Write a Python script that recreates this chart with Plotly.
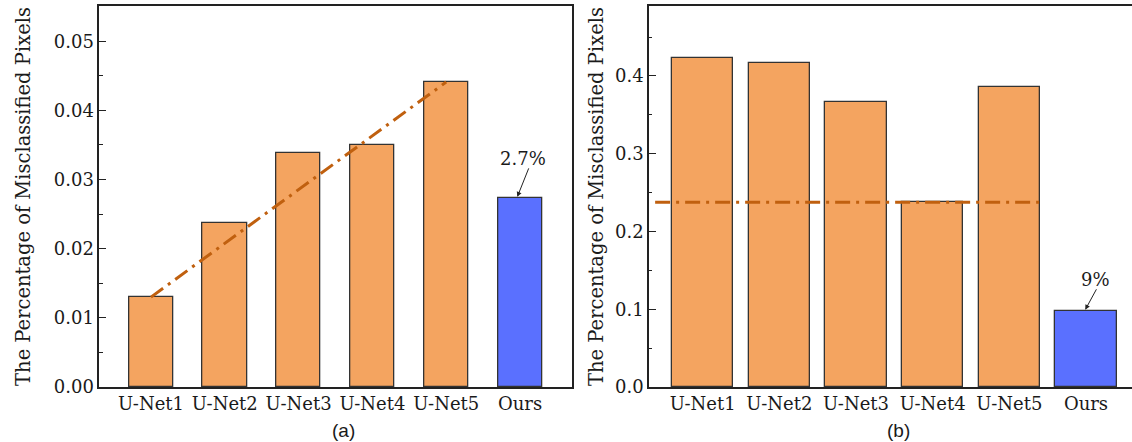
import plotly.graph_objects as go

categories = ["U-Net1", "U-Net2", "U-Net3", "U-Net4", "U-Net5", "Ours"]
values_a = [0.0130, 0.0237, 0.0338, 0.0350, 0.0441, 0.0273]
values_b = [0.4226, 0.4170, 0.3660, 0.2377, 0.3857, 0.0983]
bar_colors = ["#F4A460"] * 5 + ["#5A70FF"]
yticks_a = [0.00, 0.01, 0.02, 0.03, 0.04, 0.05]
yticklabels_a = ["0.00", "0.01", "0.02", "0.03", "0.04", "0.05"]
yticks_b = [0.0, 0.1, 0.2, 0.3, 0.4]
yticklabels_b = ["0.0", "0.1", "0.2", "0.3", "0.4"]
label_a = "2.7%"
label_b = "9%"
ytitle = "The Percentage of Misclassified Pixels"

xpos = list(range(len(categories)))
W, H = 1132, 442
SERIF = "DejaVu Serif"
SANS = "Liberation Sans"
LINE_COLOR = "#C0600F"
AX_COLOR = "#222222"
TXT = "#1a1a1a"

fig = go.Figure()

fig.add_trace(go.Bar(x=xpos, y=values_a, width=0.6, marker=dict(color=bar_colors, line=dict(color="#333333", width=1.3)),
                     xaxis="x", yaxis="y", showlegend=False))
fig.add_trace(go.Scatter(x=[xpos[0], xpos[4]], y=[values_a[0], values_a[4]], mode="lines",
                         line=dict(color=LINE_COLOR, width=3, dash="15px,6px,3px,6px"),
                         xaxis="x", yaxis="y", showlegend=False))

fig.add_trace(go.Bar(x=xpos, y=values_b, width=0.8, marker=dict(color=bar_colors, line=dict(color="#333333", width=1.3)),
                     xaxis="x2", yaxis="y2", showlegend=False))
fig.add_trace(go.Scatter(x=[-0.62, xpos[4] + 0.4], y=[values_b[3], values_b[3]], mode="lines",
                         line=dict(color=LINE_COLOR, width=3, dash="15px,6px,3px,6px"),
                         xaxis="x2", yaxis="y2", showlegend=False))

tickfont = dict(family=SERIF, size=18, color=TXT)
titlefont = dict(family=SERIF, size=19.5, color=TXT)

common_x = dict(tickmode="array", tickvals=xpos, ticktext=categories, showgrid=False, zeroline=False,
                showline=True, linecolor=AX_COLOR, linewidth=1.5, ticks="", tickfont=tickfont)
common_y = dict(showgrid=False, zeroline=False, showline=True, linecolor=AX_COLOR, linewidth=1.5,
                ticks="inside", ticklen=7, tickwidth=1.3, tickcolor=AX_COLOR, tickfont=tickfont)

fig.update_layout(
    width=W, height=H,
    margin=dict(l=0, r=0, t=6, b=55),
    plot_bgcolor="white", paper_bgcolor="white",
    bargap=0,
    font=dict(family=SERIF, color=TXT),
    xaxis=dict(domain=[99.3 / W, 571.7 / W], range=[-0.7, 5.7], mirror=True, anchor="y", **common_x),
    yaxis=dict(range=[0, 0.0551], tickmode="array", tickvals=yticks_a, ticktext=yticklabels_a, mirror=True,
               anchor="x", minor=dict(dtick=0.005, ticks="inside", ticklen=3.5, tickwidth=1.3, tickcolor=AX_COLOR),
               title=dict(text=ytitle, font=titlefont, standoff=18), **common_y),
    xaxis2=dict(domain=[649 / W, 1.0], range=[-0.7, 5.6], mirror=True, anchor="y2", **common_x),
    yaxis2=dict(range=[0, 0.49], tickmode="array", tickvals=yticks_b, ticktext=yticklabels_b, mirror=False,
                anchor="x2", minor=dict(dtick=0.05, ticks="inside", ticklen=3.5, tickwidth=1.3, tickcolor=AX_COLOR),
                title=dict(text=ytitle, font=titlefont, standoff=6), **common_y),
    annotations=[
        dict(text=label_a, x=5.04, y=0.033, xref="x", yref="y", showarrow=False,
             font=dict(family=SERIF, size=18, color=TXT)),
        dict(text="", x=4.963, y=values_a[5] + 0.0002, xref="x", yref="y", ax=12, ay=-30,
             showarrow=True, arrowhead=2, arrowsize=1, arrowwidth=1, arrowcolor="#222222"),
        dict(text=label_b, x=5.127, y=0.1386, xref="x2", yref="y2", showarrow=False,
             font=dict(family=SERIF, size=18, color=TXT)),
        dict(text="", x=4.99, y=values_b[5] + 0.001, xref="x2", yref="y2", ax=12, ay=-22,
             showarrow=True, arrowhead=2, arrowsize=1, arrowwidth=1, arrowcolor="#222222"),
        dict(text="(a)", x=343 / W, y=-0.1137, xref="paper", yref="paper", showarrow=False,
             xanchor="center", yanchor="middle", font=dict(family=SANS, size=19, color=TXT)),
        dict(text="(b)", x=898.7 / W, y=-0.1137, xref="paper", yref="paper", showarrow=False,
             xanchor="center", yanchor="middle", font=dict(family=SANS, size=19, color=TXT)),
    ],
)

fig.write_html("out.html")
